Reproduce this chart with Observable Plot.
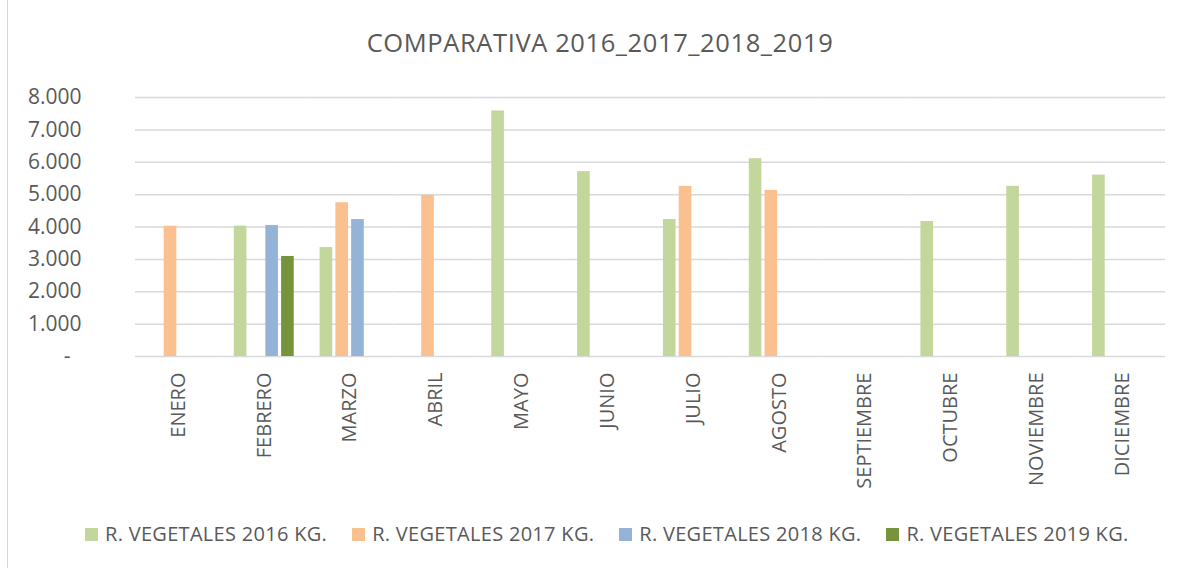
<!DOCTYPE html>
<html>
<head>
<meta charset="utf-8">
<script src="https://cdn.jsdelivr.net/npm/d3@7"></script>
<script src="https://cdn.jsdelivr.net/npm/@observablehq/plot@0.6"></script>
<style>
  html, body { margin: 0; padding: 0; background: #fff; }
  #wrap { position: relative; width: 1188px; height: 568px; overflow: hidden; font-family: "Open Sans", sans-serif; color: #595959; }
  #border { position: absolute; left: 7px; top: 0; width: 1px; height: 568px; background: #d9d9d9; }
  #title { position: absolute; left: 0; width: 1200px; top: 26px; text-align: center; font-size: 25.5px; letter-spacing: 0.6px; line-height: 32px; white-space: nowrap; }
  #chart { position: absolute; left: 0; top: 0; }
  #legend { position: absolute; left: 85px; top: 521px; display: flex; gap: 25px; font-size: 20px; letter-spacing: 0.3px; line-height: 26px; white-space: nowrap; }
  .item { display: flex; align-items: center; gap: 7px; }
  .sw { width: 13px; height: 13px; display: inline-block; }
</style>
</head>
<body>
<div id="wrap">
  <div id="border"></div>
  <div id="chart"></div>
  <div id="title"></div>
  <div id="legend"></div>
</div>
<script>
const titleText = "COMPARATIVA 2016_2017_2018_2019";
const months = ["ENERO","FEBRERO","MARZO","ABRIL","MAYO","JUNIO","JULIO","AGOSTO","SEPTIEMBRE","OCTUBRE","NOVIEMBRE","DICIEMBRE"];
const seriesNames = ["R. VEGETALES 2016 KG.","R. VEGETALES 2017 KG.","R. VEGETALES 2018 KG.","R. VEGETALES 2019 KG."];
const colors = ["#C3D69B","#FAC090","#95B3D7","#77933C"];
const v2016 = [null, 4025, 3365, null, 7585, 5710, 4230, 6110, null, 4170, 5255, 5605];
const v2017 = [4025, null, 4750, 4975, null, null, 5255, 5130, null, null, null, null];
const v2018 = [null, 4045, 4230, null, null, null, null, null, null, null, null, null];
const v2019 = [null, 3090, null, null, null, null, null, null, null, null, null, null];
const yTicks = [0,1000,2000,3000,4000,5000,6000,7000,8000];

const allSeries = [v2016, v2017, v2018, v2019];
const rows = [];
months.forEach((m, i) => {
  allSeries.forEach((arr, s) => {
    if (arr[i] != null) rows.push({month: m, series: seriesNames[s], value: arr[i]});
  });
});
// gridlines drawn in every month facet so that the grid is continuous
const gridRows = months.flatMap(m => yTicks.map(t => ({month: m, tick: t})));
const fmt = d => d === 0 ? "-\u00a0\u00a0" : d3.format(",")(d).replace(/,/g, ".");

const chart = Plot.plot({
  width: 1188,
  height: 500,
  marginLeft: 135,
  marginRight: 23,
  marginTop: 97,
  marginBottom: 144,
  style: {fontFamily: "'Open Sans', sans-serif", color: "#595959", background: "transparent"},
  fx: {domain: months, padding: 0, round: false, label: null, axis: null},
  x: {domain: seriesNames, paddingInner: 0.2, paddingOuter: 0.82, round: false, axis: null},
  y: {domain: [0, 8000], label: null, axis: null},
  color: {domain: seriesNames, range: colors},
  marks: [
    Plot.ruleY(gridRows, {fx: "month", y: "tick", stroke: "#d9d9d9", strokeWidth: 1.5}),
    Plot.barY(rows, {fx: "month", x: "series", y: "value", fill: "series"}),
    Plot.axisY(yTicks, {tickSize: 0, tickPadding: 54, tickFormat: fmt, fontSize: 21, label: null, facetAnchor: "left"}),
    Plot.axisFx({anchor: "bottom", tickSize: 0, tickPadding: 16, tickRotate: -90, fontSize: 20, label: null})
  ]
});
document.getElementById("chart").appendChild(chart);
document.getElementById("title").textContent = titleText;

const legend = document.getElementById("legend");
seriesNames.forEach((name, i) => {
  const it = document.createElement("div");
  it.className = "item";
  const sw = document.createElement("span");
  sw.className = "sw";
  sw.style.background = colors[i];
  const tx = document.createElement("span");
  tx.textContent = name;
  it.appendChild(sw);
  it.appendChild(tx);
  legend.appendChild(it);
});
</script>
</body>
</html>
